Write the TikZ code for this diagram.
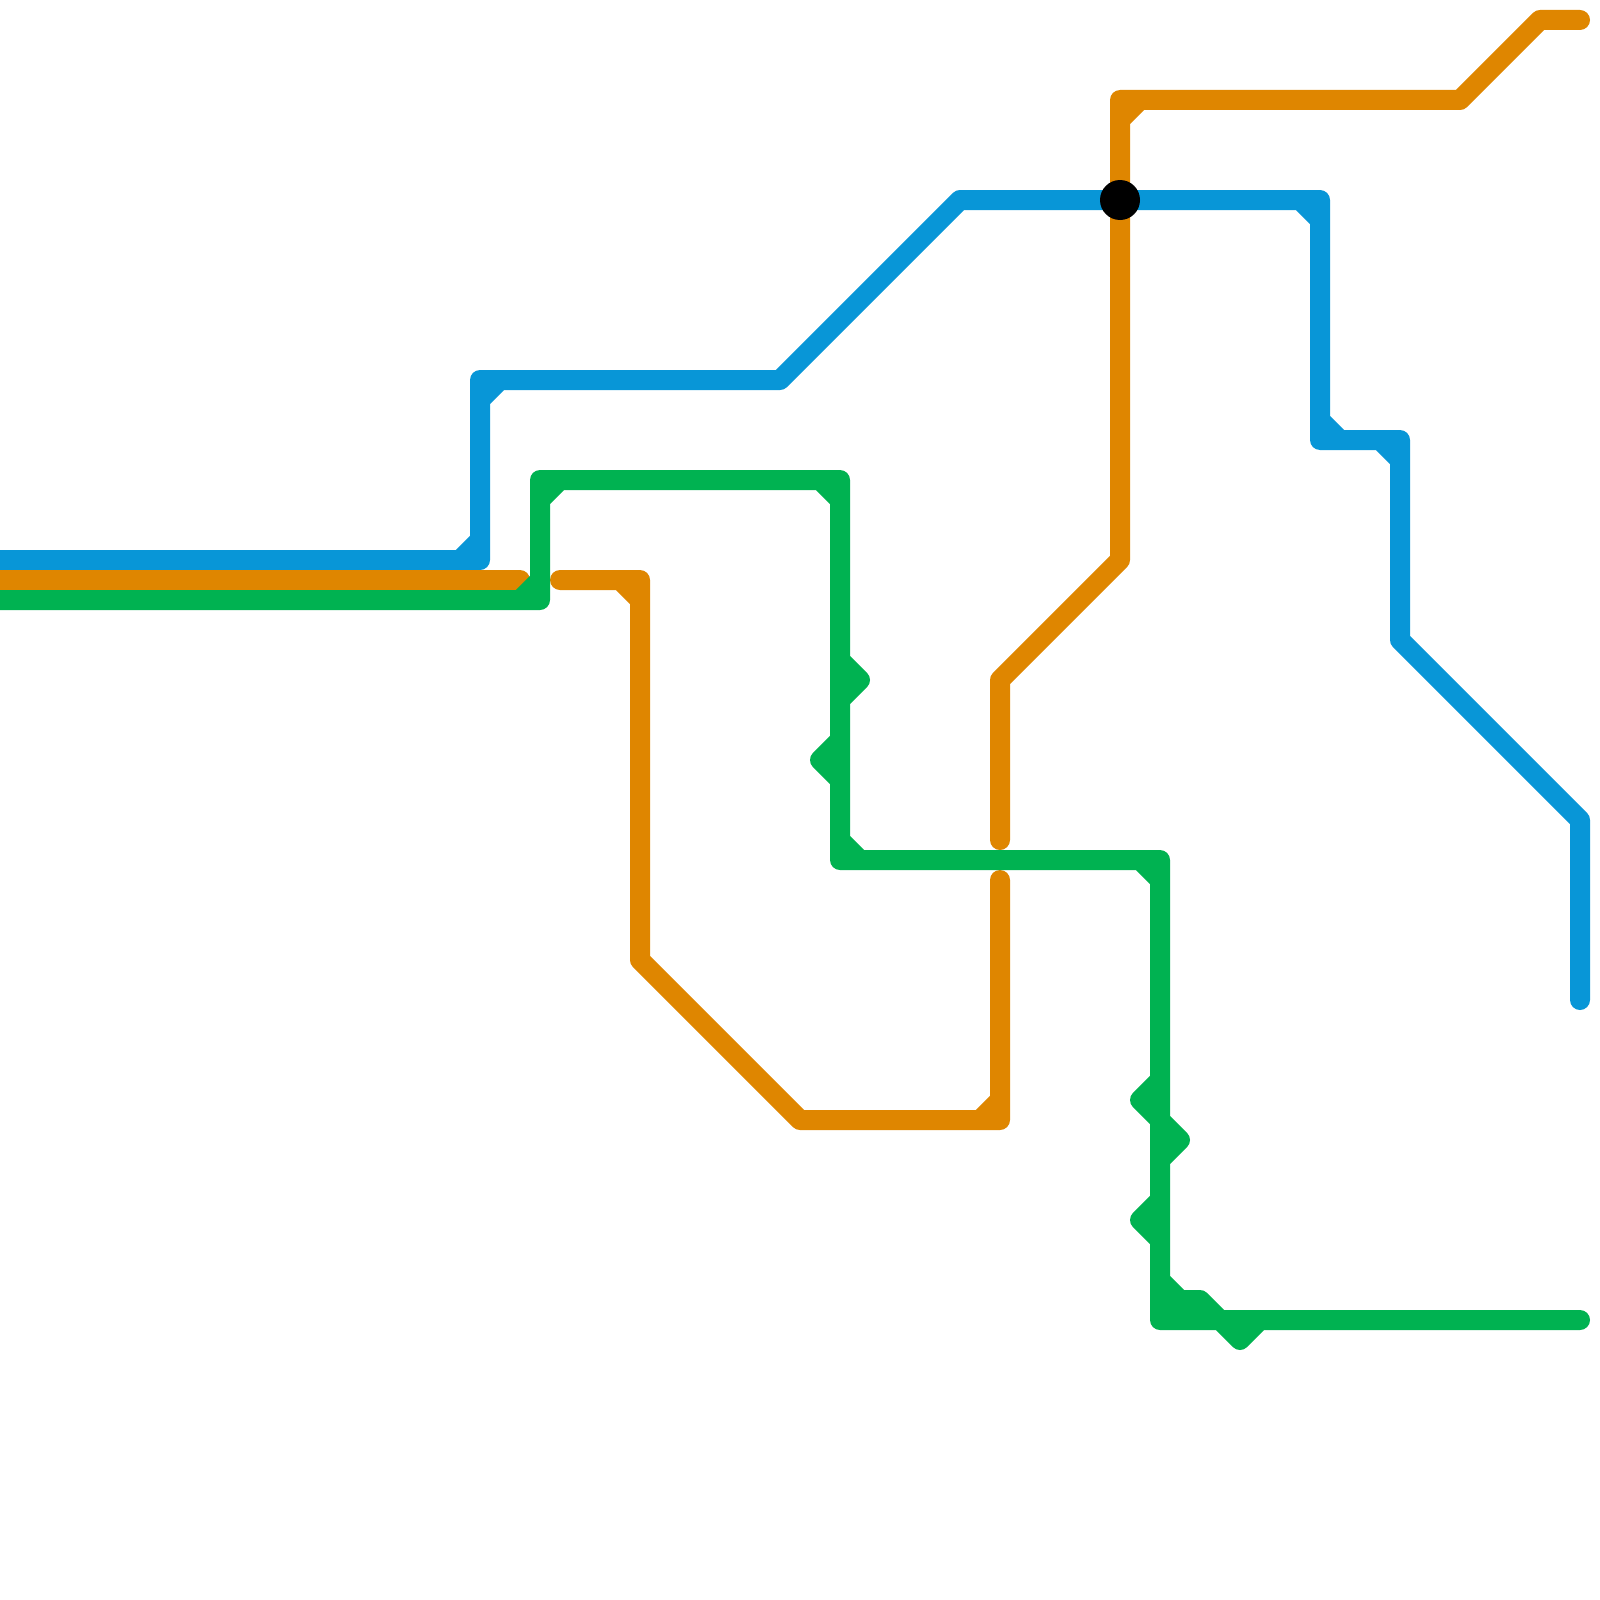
\documentclass[tikz,border=0pt]{standalone}
\definecolor{lineblue}{HTML}{0896D7}
\definecolor{lineorange}{HTML}{DF8600}
\definecolor{linegreen}{HTML}{00B251}
\tikzset{
  metro/.style={line width=20pt,line cap=round,line join=round},
  stationdot/.style={circle,fill=black,draw=none,minimum size=40pt,inner sep=0pt}
}
\begin{document}
\begin{tikzpicture}[x=1pt,y=-1pt]
\useasboundingbox (0,0) rectangle (1600,1600);
\clip (0,0) rectangle (1600,1600);
% blue line
\draw[metro,lineblue] (-20,560) -- (480,560) -- (480,380) -- (780,380) -- (960,200) -- (1320,200) -- (1320,440) -- (1400,440) -- (1400,640) -- (1580,820) -- (1580,1000)
  (460,560) -- (480,540)
  (480,400) -- (500,380)
  (1300,200) -- (1320,220)
  (1320,420) -- (1340,440)
  (1380,440) -- (1400,460);
% orange line
\draw[metro,lineorange] (-20,580) -- (520,580)
  (560,580) -- (640,580) -- (640,960) -- (800,1120) -- (1000,1120) -- (1000,880)
  (1000,840) -- (1000,680) -- (1120,560) -- (1120,100) -- (1460,100) -- (1540,20) -- (1580,20)
  (620,580) -- (640,600)
  (980,1120) -- (1000,1100)
  (1120,120) -- (1140,100);
% green line
\draw[metro,linegreen] (-20,600) -- (540,600) -- (540,480) -- (840,480) -- (840,860) -- (1160,860) -- (1160,1320) -- (1580,1320)
  (520,600) -- (540,580)
  (540,500) -- (560,480)
  (820,480) -- (840,500)
  (840,660) -- (860,680) -- (840,700)
  (840,740) -- (820,760) -- (840,780)
  (840,840) -- (860,860)
  (1140,860) -- (1160,880)
  (1160,1080) -- (1140,1100) -- (1180,1140) -- (1160,1160)
  (1160,1200) -- (1140,1220) -- (1160,1240)
  (1160,1280) -- (1180,1300) -- (1200,1300) -- (1240,1340) -- (1260,1320)
  (1160,1300) -- (1200,1300)
  (1160,1300) -- (1180,1320);
% interchange station
\node[stationdot] (station) at (1120,200) {};
\end{tikzpicture}
\end{document}
